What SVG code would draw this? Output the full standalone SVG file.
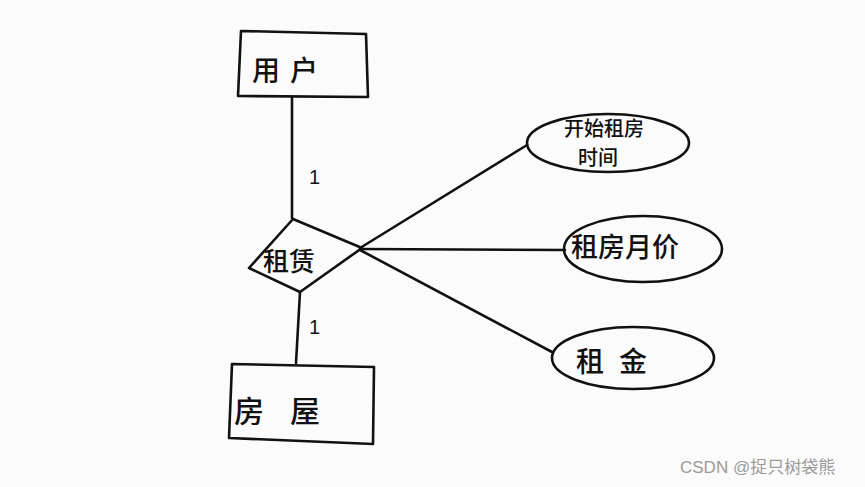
<svg xmlns="http://www.w3.org/2000/svg" width="865" height="487" viewBox="0 0 865 487">
<style>
.s{fill:none;stroke:#111;stroke-width:2.6;stroke-linejoin:round;stroke-linecap:round}
.t{font-family:"Noto Sans CJK SC","Liberation Sans",sans-serif;fill:#111;font-weight:500}
.n{font-family:"Liberation Sans",sans-serif;fill:#111;font-size:20px}
</style>
<rect width="865" height="487" fill="#fbfbfb"/>
<g id="connectors">
<path class="s" d="M292,97 L292,218"/>
<path class="s" d="M300,292 L296,363"/>
<path class="s" d="M360,248 L527,145"/>
<path class="s" d="M360,249 L565,250"/>
<path class="s" d="M360,250 L552,352"/>
<text class="n" x="309" y="184">1</text>
<text class="n" x="309" y="334">1</text>
</g>
<g id="user">
<path class="s" d="M241,31 L366,34 L368,97 L238,96 Z"/>
<text class="t" x="252" y="81" font-size="28">用</text>
<text class="t" x="290" y="81" font-size="28">户</text>
</g>
<g id="rent">
<path class="s" d="M293,219 L362,248 L300,292 L249,268 Z"/>
<text class="t" x="263" y="271" font-size="26">租赁</text>
</g>
<g id="house">
<path class="s" d="M232,364 L374,367 L373,444 L229,438 Z"/>
<text class="t" x="234" y="422" font-size="30">房</text>
<text class="t" x="290" y="422" font-size="30">屋</text>
</g>
<g id="start-time">
<ellipse class="s" cx="608" cy="143" rx="81" ry="29"/>
<text class="t" x="604" y="136" font-size="20" text-anchor="middle">开始租房</text>
<text class="t" x="598" y="165" font-size="20" text-anchor="middle">时间</text>
</g>
<g id="monthly-price">
<ellipse class="s" cx="643" cy="249" rx="79" ry="33"/>
<text class="t" x="625" y="257" font-size="27" text-anchor="middle">租房月价</text>
</g>
<g id="deposit">
<ellipse class="s" cx="633" cy="358" rx="81" ry="31"/>
<text class="t" x="576" y="372" font-size="28">租</text>
<text class="t" x="619" y="372" font-size="28">金</text>
</g>
<text x="680" y="473" font-family="'Liberation Sans','Noto Sans CJK SC',sans-serif" font-size="17" fill="#9a9a9a">CSDN @捉只树袋熊</text>
</svg>
